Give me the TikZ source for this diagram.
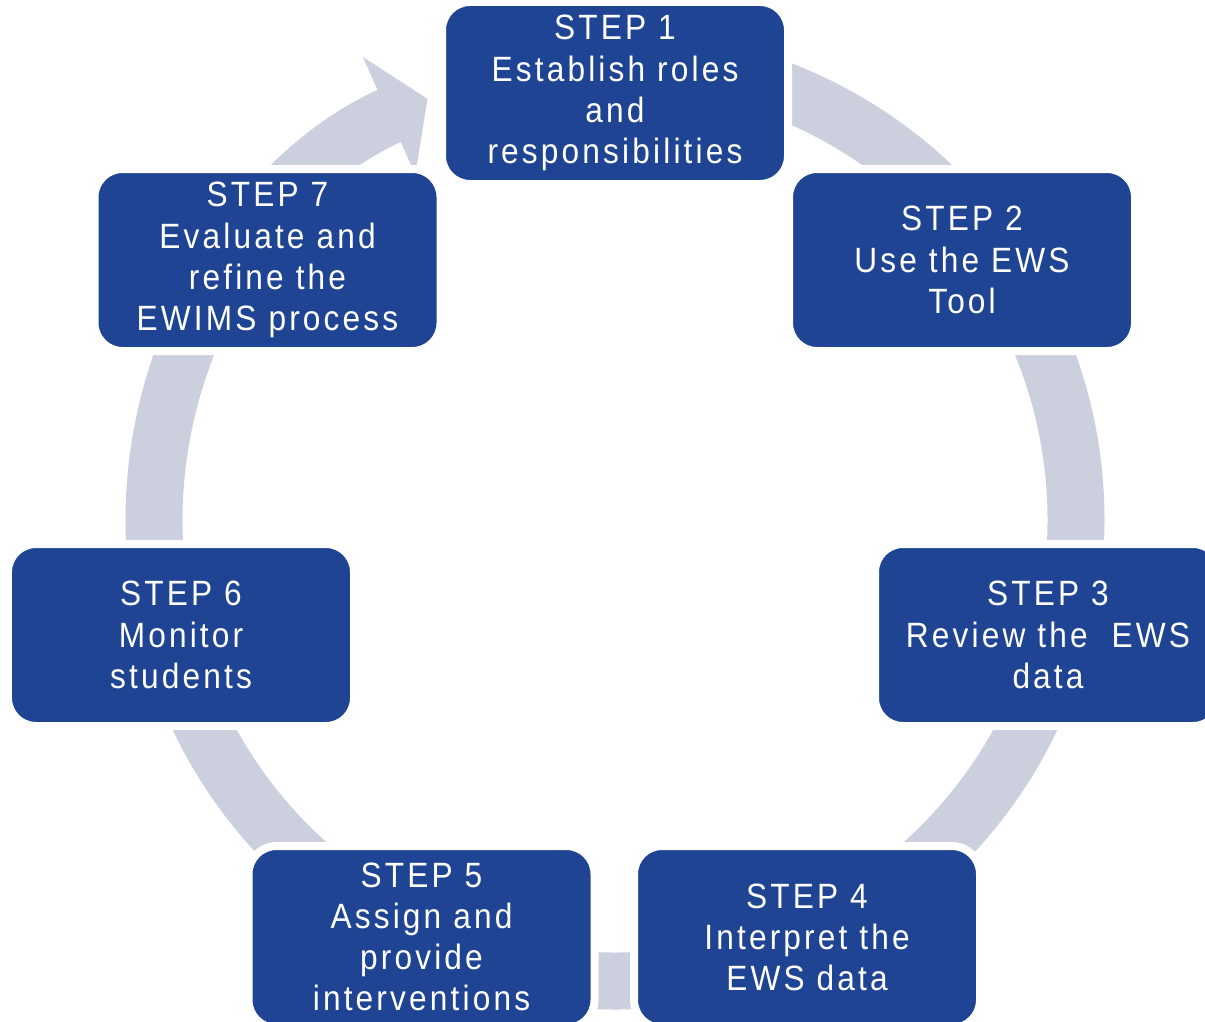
\documentclass[tikz,border=0pt]{standalone}
\usepackage{fontspec}
\setmainfont{Liberation Sans}[LetterSpace=9, FakeStretch=0.9]
\usepackage{tikz}
\usetikzlibrary{arrows.meta}
\usepackage{xcolor}
\definecolor{stepblue}{RGB}{31,68,147}
\definecolor{ringgray}{RGB}{204,208,222}

\tikzset{
    stepbox/.style={rectangle, rounded corners=0.28cm, fill=stepblue, draw=white,
        line width=0.08cm, minimum width=3.46cm, minimum height=1.82cm,
        text=white, align=center, font=\fontsize{10}{11.7}\selectfont},
    ring/.style={ringgray, line width=0.57cm}
}

\begin{document}
\begin{tikzpicture}

    \clip (0,0) rectangle (12.05,10.21);

    %ring with arrow into step 1
    \draw [ring, -{Triangle[width=1.27cm,length=0.42cm]}]
        ([shift={(90:4.61)}]6.15,5.01) arc [start angle=90, end angle=-246, radius=4.61];

    %nodes
    \draw (6.15,9.28) node[stepbox] (step1) {STEP 1\\Establish roles\\and\\responsibilities};
    \draw (9.62,7.61) node[stepbox] (step2) {STEP 2\\Use the EWS\\Tool};
    \draw (10.48,3.86) node[stepbox] (step3) {STEP 3\\Review the~ EWS\\data};
    \draw (8.07,0.84) node[stepbox] (step4) {STEP 4\\Interpret the\\EWS data};
    \draw (4.215,0.84) node[stepbox] (step5) {STEP 5\\Assign and\\provide\\interventions};
    \draw (1.81,3.86) node[stepbox] (step6) {STEP 6\\Monitor\\students};
    \draw (2.675,7.61) node[stepbox] (step7) {STEP 7\\Evaluate and\\refine the\\EWIMS process};

\end{tikzpicture}
\end{document}
